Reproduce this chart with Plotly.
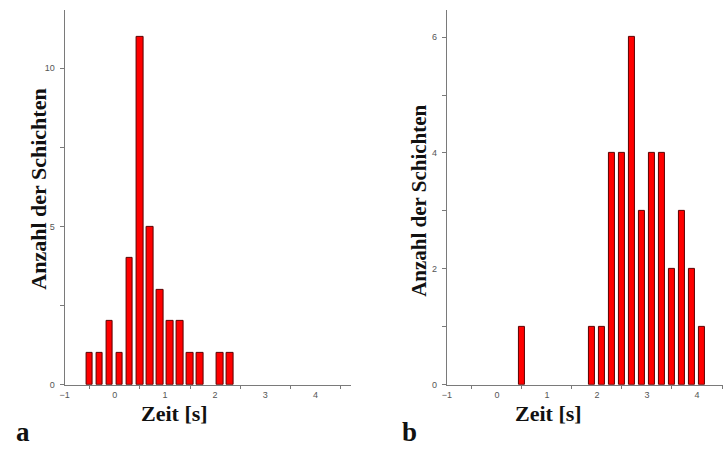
import plotly.graph_objects as go

# Histogram data: bin centres (s) and counts for the two panels
zeit_a = [-0.5, -0.3, -0.1, 0.1, 0.3, 0.5, 0.7, 0.9, 1.1, 1.3, 1.5, 1.7, 2.1, 2.3]
anzahl_a = [1, 1, 2, 1, 4, 11, 5, 3, 2, 2, 1, 1, 1, 1]

zeit_b = [0.5, 1.9, 2.1, 2.3, 2.5, 2.7, 2.9, 3.1, 3.3, 3.5, 3.7, 3.9, 4.1]
anzahl_b = [1, 1, 1, 4, 4, 6, 3, 4, 4, 2, 3, 2, 1]

x_ticks = [-1, 0, 1, 2, 3, 4]
x_minor = [-0.5, 0.5, 1.5, 2.5, 3.5, 4.5]
y_ticks_a = [0, 5, 10]
y_minor_a = [2.5, 7.5]
y_ticks_b = [0, 2, 4, 6]
y_minor_b = [1, 3, 5]

W, H = 723, 450
BAR_W = 0.13
AXIS_COL = "#7a7a7a"
TICK_FONT = dict(family="Liberation Sans, Arial", size=9, color="#555555")
SERIF_BOLD = "Liberation Serif, Times New Roman"

def px_x(p):
    return p / W

def px_y(p):
    return 1 - p / H

bar_style = dict(marker=dict(color="#ff0000", line=dict(color="#5a0000", width=1)),
                 width=BAR_W, showlegend=False, hoverinfo="x+y")

fig = go.Figure()
fig.add_trace(go.Bar(x=zeit_a, y=anzahl_a, xaxis="x", yaxis="y", **bar_style))
fig.add_trace(go.Bar(x=zeit_b, y=anzahl_b, xaxis="x2", yaxis="y2", **bar_style))

def xaxis(domain, rng, anchor):
    return dict(domain=domain, range=rng, anchor=anchor,
                showline=True, linecolor=AXIS_COL, linewidth=1,
                showgrid=False, zeroline=False,
                tickvals=x_ticks, ticks="", tickfont=TICK_FONT,
                ticklabelstandoff=2,
                minor=dict(tickvals=x_minor, ticks="outside", ticklen=3,
                           tickcolor=AXIS_COL, showgrid=False))

def yaxis(domain, rng, anchor, major, minor):
    return dict(domain=domain, range=rng, anchor=anchor,
                showline=True, linecolor=AXIS_COL, linewidth=1,
                showgrid=False, zeroline=False,
                tickvals=major, ticks="outside", ticklen=4, tickcolor=AXIS_COL,
                tickfont=TICK_FONT, ticklabelstandoff=3,
                minor=dict(tickvals=minor, ticks="outside", ticklen=4,
                           tickcolor=AXIS_COL, showgrid=False))

y_dom = [px_y(389), px_y(10)]

fig.update_layout(
    width=W, height=H,
    margin=dict(l=0, r=0, t=0, b=0),
    paper_bgcolor="white", plot_bgcolor="white",
    xaxis=xaxis([px_x(60), px_x(348)], [-1, 4.7], "y"),
    yaxis=yaxis(y_dom, [0, 11.84], "x", y_ticks_a, y_minor_a),
    xaxis2=xaxis([px_x(445), 1.0], [-1, 4.52], "y2"),
    yaxis2=yaxis(y_dom, [0, 6.47], "x2", y_ticks_b, y_minor_b),
    bargap=0,
)

def label(text, x, y, size, angle=0):
    fig.add_annotation(text=f"<b>{text}</b>", x=px_x(x), y=px_y(y),
                       xref="paper", yref="paper", showarrow=False,
                       xanchor="center", yanchor="middle", textangle=angle,
                       font=dict(family=SERIF_BOLD, size=size, color="#111111"))

label("Zeit [s]", 171, 418, 22)
label("Zeit [s]", 547, 418, 22)
label("Anzahl der Schichten", 34, 191, 22, -90)
label("Anzahl der Schichten", 417, 203, 21, -90)
label("a", 18, 437, 27)
label("b", 407, 437, 27)

fig.write_html("out.html")
